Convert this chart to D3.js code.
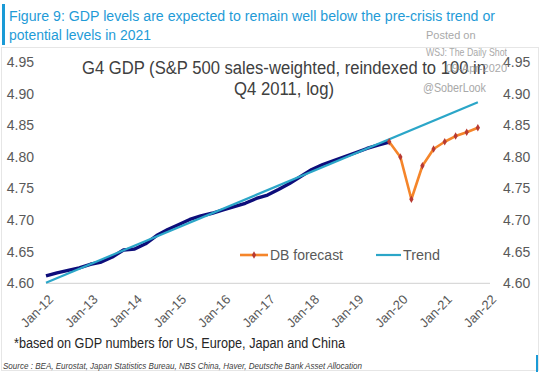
<!DOCTYPE html>
<html><head><meta charset="utf-8">
<script src="https://cdn.jsdelivr.net/npm/d3@7/dist/d3.min.js"></script>
<style>
body{margin:0;background:#fff;}
svg{display:block;font-family:"Liberation Sans",Arial,sans-serif;}
</style></head>
<body><svg id="c" width="541" height="373"></svg>
<script>
// ---- data ----
const gdpQuarters = ["2012Q1","2012Q2","2012Q3","2012Q4","2013Q1","2013Q2","2013Q3","2013Q4",
  "2014Q1","2014Q2","2014Q3","2014Q4","2015Q1","2015Q2","2015Q3","2015Q4",
  "2016Q1","2016Q2","2016Q3","2016Q4","2017Q1","2017Q2","2017Q3","2017Q4",
  "2018Q1","2018Q2","2018Q3","2018Q4","2019Q1","2019Q2","2019Q3","2019Q4"];
const gdpValues = [4.6117,4.6166,4.6204,4.6244,4.6301,4.6337,4.6416,4.6527,
  4.6543,4.6625,4.6756,4.6851,4.6930,4.7010,4.7065,4.7108,
  4.7160,4.7212,4.7266,4.7342,4.7397,4.7484,4.7579,4.7690,
  4.7800,4.7880,4.7943,4.8006,4.8070,4.8133,4.8188,4.8236];
const forecastQuarters = ["2019Q4","2020Q1","2020Q2","2020Q3","2020Q4","2021Q1","2021Q2","2021Q3","2021Q4"];
const forecastValues = [4.824,4.800,4.733,4.786,4.8125,4.824,4.833,4.839,4.846];
const trendQuarters = ["2012Q1","2021Q4"];
const trendValues = [4.601,4.8864];
const xTickLabels = ["Jan-12","Jan-13","Jan-14","Jan-15","Jan-16","Jan-17","Jan-18","Jan-19","Jan-20","Jan-21","Jan-22"];
const yTicks = [4.60,4.65,4.70,4.75,4.80,4.85,4.90,4.95];

// ---- helpers ----
const qDate = s => new Date(+s.slice(0,4), (+s.slice(5)-1)*3, 1);
const tickDate = s => new Date(2000 + +s.slice(4), 0, 1);

const svg = d3.select("#c");
const x = d3.scaleTime().domain([new Date(2012,0,1), new Date(2022,0,1)]).range([46, 489]);
const y = d3.scaleLinear().domain([4.60, 4.95]).range([283.3, 62.1]);

// frame
svg.append("rect").attr("x",1.5).attr("y",47.5).attr("width",537).attr("height",323)
  .attr("fill","none").attr("stroke","#e6e6e6");
svg.append("rect").attr("x",2).attr("y",4).attr("width",3).attr("height",41).attr("fill","#1a9ad6");
svg.append("rect").attr("x",536).attr("y",355).attr("width",2).attr("height",17).attr("fill","#1a9ad6");

// title
const tcol = "#1f9bd7";
svg.append("text").attr("x",9).attr("y",21).attr("fill",tcol).attr("font-size",15.5)
  .attr("textLength",486).attr("lengthAdjust","spacingAndGlyphs")
  .text("Figure 9: GDP levels are expected to remain well below the pre-crisis trend or");
svg.append("text").attr("x",9).attr("y",40).attr("fill",tcol).attr("font-size",15.5)
  .attr("textLength",142).attr("lengthAdjust","spacingAndGlyphs")
  .text("potential levels in 2021");

// chart title
svg.append("text").attr("x",82).attr("y",74).attr("fill","#404040").attr("font-size",18)
  .attr("textLength",404).attr("lengthAdjust","spacingAndGlyphs")
  .text("G4 GDP (S&P 500 sales-weighted, reindexed to 100 in");
svg.append("text").attr("x",234).attr("y",95).attr("fill","#404040").attr("font-size",18)
  .attr("textLength",100).attr("lengthAdjust","spacingAndGlyphs")
  .text("Q4 2011, log)");

// axis baseline (gridline at 4.60)
svg.append("line").attr("x1",46).attr("x2",490).attr("y1",y(4.60)).attr("y2",y(4.60))
  .attr("stroke","#d9d9d9").attr("stroke-width",1.2);

// left & right y labels
const axisCol = "#595959";
const yFmt = d3.format(".2f");
const yl = d3.axisLeft(y).tickValues(yTicks).tickFormat(yFmt).tickSize(0).tickPadding(0);
const gL = svg.append("g").attr("transform","translate(34,0)").call(yl);
const yr = d3.axisRight(y).tickValues(yTicks).tickFormat(yFmt).tickSize(0).tickPadding(0);
const gR = svg.append("g").attr("transform","translate(503,0)").call(yr);
[gL,gR].forEach(g=>{
  g.select(".domain").remove();
  g.selectAll("text").attr("font-size",14).attr("fill",axisCol)
    .attr("font-family","Liberation Sans, Arial, sans-serif");
});

// x labels
const xa = d3.axisBottom(x).tickValues(xTickLabels.map(tickDate))
  .tickFormat((d,i)=>xTickLabels[i]).tickSize(0).tickPadding(0);
const gX = svg.append("g").call(xa);
gX.select(".domain").remove();
gX.selectAll(".tick").attr("transform", d => `translate(${x(d)+5},297)`);
gX.selectAll("text").attr("font-size",13).attr("fill",axisCol)
  .attr("font-family","Liberation Sans, Arial, sans-serif")
  .attr("text-anchor","end").attr("dy","0.35em").attr("y",0)
  .attr("transform","rotate(-45)");

// lines
const line = d3.line().x(d=>x(qDate(d[0]))).y(d=>y(d[1]));
const gdpData = d3.zip(gdpQuarters, gdpValues);
const fcData = d3.zip(forecastQuarters, forecastValues);
const trData = d3.zip(trendQuarters, trendValues);

svg.append("path").datum(gdpData).attr("d",line).attr("fill","none")
  .attr("stroke","#0d0d7a").attr("stroke-width",3.4).attr("stroke-linejoin","round");
svg.append("path").datum(trData).attr("d",line).attr("fill","none")
  .attr("stroke","#2ba6c8").attr("stroke-width",2.2);
svg.append("path").datum(fcData).attr("d",line).attr("fill","none")
  .attr("stroke","#f5852a").attr("stroke-width",2.6).attr("stroke-linejoin","round");
const sym = d3.symbol().type(d3.symbolDiamond).size(16);
svg.selectAll(".fcm").data(fcData).join("path").attr("class","fcm")
  .attr("d",sym).attr("transform",d=>`translate(${x(qDate(d[0]))},${y(d[1])})`)
  .attr("fill","#b83a32");

// legend
const lg = svg.append("g");
lg.append("line").attr("x1",240).attr("x2",268).attr("y1",255).attr("y2",255)
  .attr("stroke","#f5852a").attr("stroke-width",2.6);
lg.append("path").attr("d",sym).attr("transform","translate(254,255)").attr("fill","#b83a32");
lg.append("text").attr("x",270).attr("y",260).attr("font-size",14).attr("fill",axisCol)
  .attr("textLength",73).attr("lengthAdjust","spacingAndGlyphs").text("DB forecast");
lg.append("line").attr("x1",376).attr("x2",401).attr("y1",255).attr("y2",255)
  .attr("stroke","#2ba6c8").attr("stroke-width",2.2);
lg.append("text").attr("x",403).attr("y",260).attr("font-size",14).attr("fill",axisCol)
  .attr("textLength",37).attr("lengthAdjust","spacingAndGlyphs").text("Trend");

// footnote & source
svg.append("text").attr("x",14).attr("y",348).attr("font-size",14).attr("fill","#262626")
  .attr("textLength",331).attr("lengthAdjust","spacingAndGlyphs")
  .text("*based on GDP numbers for US, Europe, Japan and China");
svg.append("text").attr("x",3).attr("y",369).attr("font-size",9).attr("fill","#404040")
  .attr("font-style","italic").attr("textLength",359).attr("lengthAdjust","spacingAndGlyphs")
  .text("Source : BEA, Eurostat, Japan Statistics Bureau, NBS China, Haver, Deutsche Bank Asset Allocation");

// watermark
const wm = svg.append("g").attr("fill","#9a9a9a").attr("font-size",11).attr("opacity",0.85);
wm.append("text").attr("x",426).attr("y",39).text("Posted on");
wm.append("text").attr("x",426).attr("y",56).attr("textLength",81).attr("lengthAdjust","spacingAndGlyphs").text("WSJ: The Daily Shot");
wm.append("text").attr("x",446).attr("y",72).attr("textLength",61).attr("lengthAdjust","spacingAndGlyphs").text("09-Apr-2020");
wm.append("text").attr("x",423).attr("y",92).attr("font-size",12).attr("textLength",63).attr("lengthAdjust","spacingAndGlyphs").text("@SoberLook");
</script></body></html>
